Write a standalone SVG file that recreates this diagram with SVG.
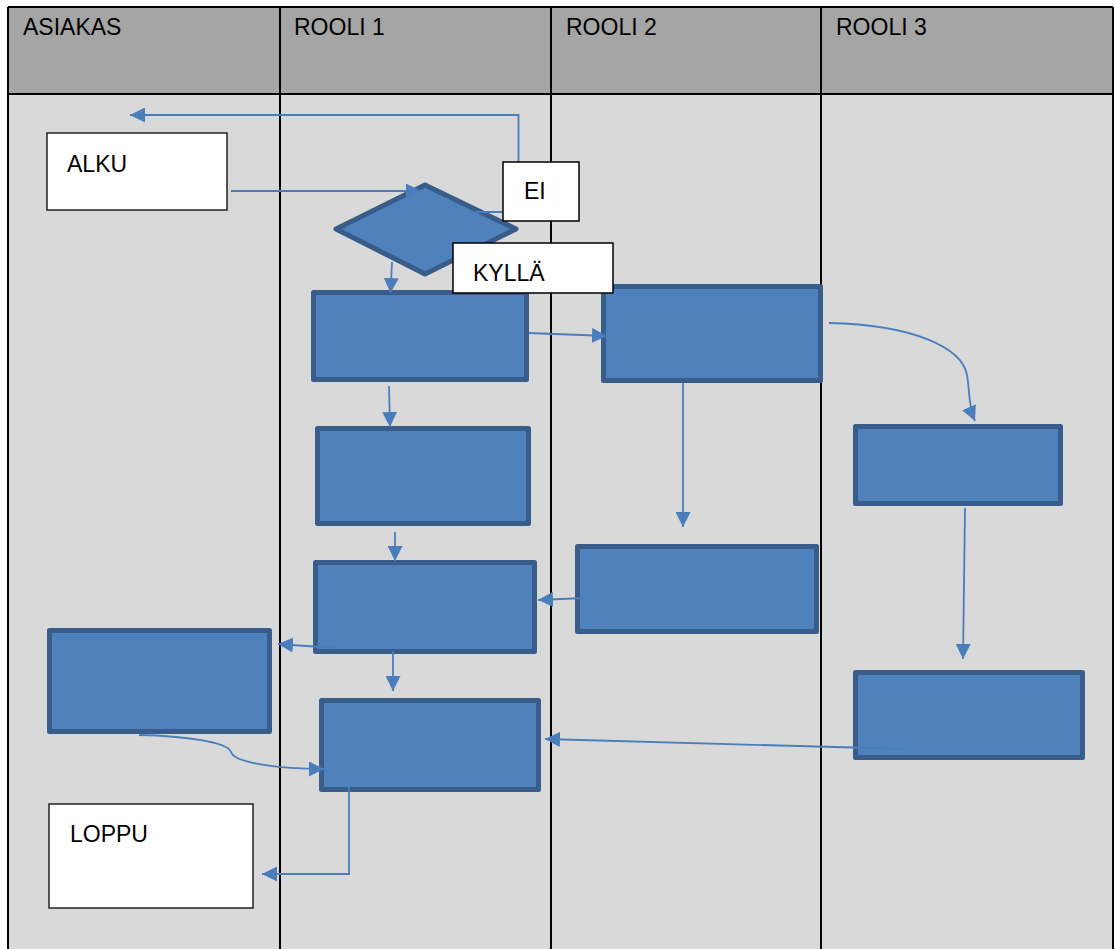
<svg xmlns="http://www.w3.org/2000/svg" width="1115" height="949" viewBox="0 0 1115 949">
<style>
.hdr{fill:#a5a5a5}
.body{fill:#d9d9d9}
.grid{stroke:#000;stroke-width:2;fill:none}
.txt{font-family:"Liberation Sans",Arial,sans-serif;font-size:23px;fill:#000}
.proc{fill:#4f81bd;stroke:#385d8a;stroke-width:5;stroke-linejoin:round}
.term{fill:#fff;stroke:#222;stroke-width:1.5}
.lbl{fill:#fff;stroke:#000;stroke-width:1.5}
.conn{fill:none;stroke:#4a7ebb;stroke-width:1.8;marker-end:url(#arr)}
</style>
<defs>
<marker id="arr" markerUnits="userSpaceOnUse" markerWidth="15" markerHeight="15" refX="14" refY="7" orient="auto" viewBox="0 0 14 14">
<path d="M0,0 L14,7 L0,14 z" fill="#4a7ebb"/>
</marker>
</defs>
<rect width="1115" height="949" fill="#fff"/>
<g id="lanes">
<rect class="hdr" x="8" y="7" width="1105" height="87"/>
<rect class="body" x="8" y="94" width="1105" height="860"/>
<path class="grid" d="M8,7 H1113 M8,94 H1113 M8,7 V949 M280,7 V949 M551,7 V949 M821,7 V949 M1113,7 V949"/>
<text class="txt" x="23" y="35">ASIAKAS</text>
<text class="txt" x="294" y="35">ROOLI 1</text>
<text class="txt" x="566" y="35">ROOLI 2</text>
<text class="txt" x="836" y="35">ROOLI 3</text>
</g>
<g id="alku"><rect class="term" x="47" y="133" width="180" height="77"/><text class="txt" x="67" y="172">ALKU</text></g>
<g id="decision"><polygon class="proc" points="336,229 425,185 516,229 425,274"/></g>
<g id="r1a"><rect class="proc" x="313.5" y="292.5" width="213" height="87"/></g>
<g id="r1b"><rect class="proc" x="317.5" y="428.5" width="211" height="95"/></g>
<g id="r1c"><rect class="proc" x="315.5" y="562.5" width="219" height="89"/></g>
<g id="r1d"><rect class="proc" x="321.5" y="700.5" width="217" height="89"/></g>
<g id="a1"><rect class="proc" x="49.5" y="630.5" width="220" height="101"/></g>
<g id="r2a"><rect class="proc" x="603.5" y="286.5" width="217" height="94"/></g>
<g id="r2b"><rect class="proc" x="577.5" y="546.5" width="239" height="85"/></g>
<g id="r3a"><rect class="proc" x="855.5" y="426.5" width="205" height="77"/></g>
<g id="r3b"><rect class="proc" x="855.5" y="672.5" width="227" height="85"/></g>
<g id="loppu"><rect class="term" x="49" y="804" width="204" height="104"/><text class="txt" x="70" y="842">LOPPU</text></g>
<g id="connectors">
<path class="conn" d="M231,191 H421"/>
<path class="conn" d="M476,212 H518.5 V115 H130"/>
<path class="conn" d="M392,262 L390.5,293"/>
<path class="conn" d="M529,333 L607,336"/>
<path class="conn" d="M389,386 L390,427"/>
<path class="conn" d="M395,532 L395,561"/>
<path class="conn" d="M829,323 C915,325 962,348 967,375 C970,392 968,405 975,421"/>
<path class="conn" d="M683,383 V527"/>
<path class="conn" d="M965,508 L963,659"/>
<path class="conn" d="M584,598 L538,600"/>
<path class="conn" d="M335,648 L278,644"/>
<path class="conn" d="M393,651 L393,691"/>
<path class="conn" d="M907,749 L545,739"/>
<path class="conn" d="M139,735 C185,736 228,742 231,752 C234,763 280,769 324,769"/>
<path class="conn" d="M349,787 V874 H262"/>
</g>
<g id="label-ei"><rect class="lbl" x="503" y="162" width="76" height="59"/><text class="txt" x="524" y="199">EI</text></g>
<g id="label-kylla"><rect class="lbl" x="453" y="243" width="160" height="50"/><text class="txt" x="473" y="281">KYLLÄ</text></g>
</svg>
